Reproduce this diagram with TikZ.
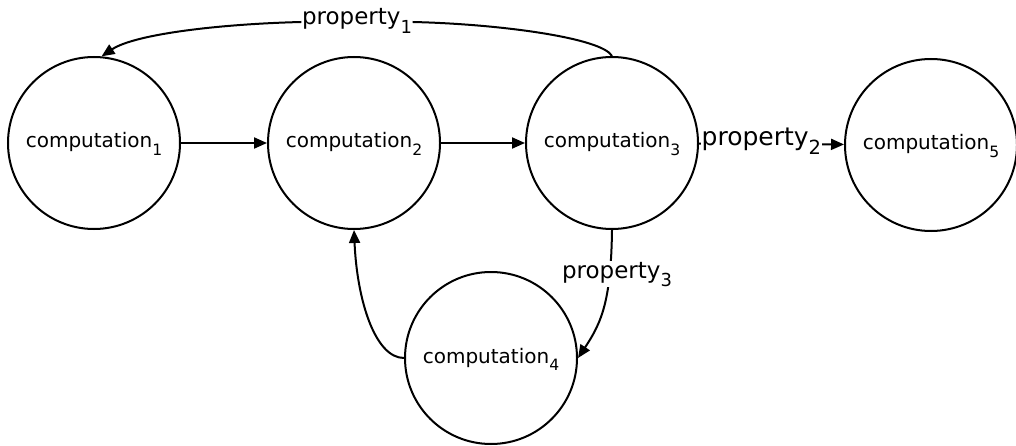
\documentclass[tikz,border=0pt]{standalone}
\usepackage{fontspec}
\setmainfont{DejaVu Sans}
\usetikzlibrary{arrows.meta}
\newcommand{\sbs}[1]{\raisebox{-0.36em}{\scalebox{0.78}{#1}}}
\begin{document}
\begin{tikzpicture}[x=1pt,y=1pt,
  comp/.style={circle,draw,line width=2pt,minimum size=172pt,inner sep=0pt,
    font=\fontsize{20}{20}\selectfont,text height=10pt,text depth=0pt},
  plab/.style={inner sep=0.5pt,font=\fontsize{23}{23}\selectfont},
  arr/.style={line width=2pt,-{Triangle[length=13pt,width=11pt]}},
  ln/.style={line width=2pt}]
\useasboundingbox (0,0) rectangle (1016,-446);
\node[comp] (c1) at (94,-143) {computation\sbs{1}};
\node[comp] (c2) at (354,-143) {computation\sbs{2}};
\node[comp] (c3) at (612,-143) {computation\sbs{3}};
\node[comp] (c5) at (931,-145) {computation\sbs{5}};
\node[comp] (c4) at (491,-358) {computation\sbs{4}};

\draw[arr] (c1) -- (c2);
\draw[arr] (c2) -- (c3);
\draw[arr] (c3) -- node[plab,font=\fontsize{25}{25}\selectfont,fill=white,pos=0.43,anchor=base,yshift=-2pt] (p2) {property\sbs{2}} (c5);

\node[plab,anchor=base] (p1) at (357,-25) {property\sbs{1}};
\draw[ln] ([yshift=3pt]p1.base east) .. controls (500,-24) and (602,-38) .. (c3.north);
\draw[arr] ([yshift=3pt]p1.base west) .. controls (220,-24) and (135,-34) .. (c1.85);

\draw[arr] (c3.south) .. controls (611,-300) and (602,-322) .. (c4.east);
\node[plab,fill=white,anchor=base] (p3) at (617,-278) {property\sbs{3}};

\draw[arr] (c4.west) .. controls (375,-358) and (357,-300) .. (c2.south);
\end{tikzpicture}
\end{document}
